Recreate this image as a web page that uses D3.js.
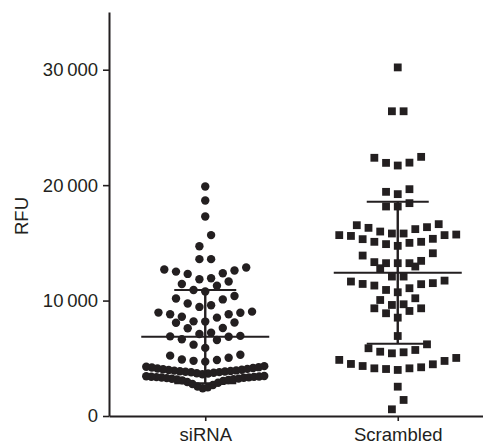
<!DOCTYPE html>
<html>
<head>
<meta charset="utf-8">
<script src="https://cdn.jsdelivr.net/npm/d3@7"></script>
<style>
  body { margin: 0; background: #fff; }
  svg { display: block; font-family: "Liberation Sans", Arial, Helvetica, sans-serif; }
</style>
</head>
<body>
<script>
const width = 483;
const height = 445;
const ink = "#231f20";

// groups on the x axis
const groups = ["siRNA", "Scrambled"];

// RFU values
const siRNA = [
    2410, 2480, 2560, 2690, 2770, 2880, 2950, 3040, 3090, 3120, 3160, 3190,
    3230, 3240, 3280, 3310, 3330, 3350, 3370, 3390, 3400, 3420, 3440, 3460,
    3620, 3680, 3710, 3750, 3790, 3800, 3830, 3860, 3880, 3900, 3930, 3950,
    3980, 4010, 4050, 4080, 4120, 4160, 4200, 4230, 4270, 4320,
    4710, 4780, 4850, 4900, 5050, 5230, 5300,
    5900, 6180, 6580, 6650, 6860, 6900, 6940,
    7100, 7220, 7600, 7620, 8080, 8100,
    8180, 8200, 8520, 8600, 8820, 8820, 8950, 8960, 9040,
    9450, 9600, 9750, 10100, 10180, 10400,
    10780, 10920, 11290, 11440, 11650,
    11850, 11940, 12310, 12370, 12510, 12600, 12690, 12860,
    13590, 13590, 14710, 15670, 17280, 18670, 19880
];

const scrambled = [
    580, 1390, 2540,
    3990, 4070, 4130, 4130, 4220, 4330, 4480, 4510, 4770, 4860, 5030,
    5430, 5520, 5570, 5720, 5870, 6210,
    6930,
    8520, 8900, 9100, 9330, 9330,
    9620, 9680, 10050, 10200,
    10720, 10920, 11070, 11300, 11420, 11440, 11510, 11650, 11730,
    12080, 12080, 12800, 12950,
    13240, 13240, 13240, 13330, 13440, 13900, 14100,
    14740, 14890, 15000, 15090, 15090, 15320, 15350, 15600, 15670, 15670, 15720,
    15810, 15810, 15980, 16190, 16300, 16360, 16530, 16620,
    18150, 18150, 18440, 19220, 19420, 19650,
    21700, 21930, 21950, 22370, 22450,
    26400, 26400, 30200
];

const yTicks = [0, 10000, 20000, 30000];
const yTickLabels = ["0", "10\u2009000", "20\u2009000", "30\u2009000"];

const svg = d3.select("body").append("svg")
    .attr("width", width)
    .attr("height", height);

const y = d3.scaleLinear()
    .domain([0, 35000])
    .range([416, 12]);

const x = d3.scalePoint()
    .domain(groups)
    .range([109, 494])
    .padding(0.5);

// swarm layout: values close together share a row, lowest in the middle
const rowSpan = 1050;
const gap = 11.7;
const maxWidth = 118;

function swarm(values, group) {
    const sorted = values.slice().sort(d3.ascending);
    const rows = [];
    sorted.forEach(v => {
        const row = rows[rows.length - 1];
        if (row && v - row[0] <= rowSpan) row.push(v);
        else rows.push([v]);
    });
    const pts = [];
    rows.forEach(row => {
        const n = row.length;
        const step = n > 1 ? Math.min(gap, maxWidth / (n - 1)) : 0;
        row.forEach((v, i) => {
            let slot;
            if (n % 2 === 1) slot = (i % 2 === 1 ? -1 : 1) * Math.ceil(i / 2);
            else slot = (i % 2 === 0 ? -1 : 1) * (Math.floor(i / 2) + 0.5);
            pts.push({ group, value: v, cx: x(group) + slot * step, cy: y(v) });
        });
    });
    return pts;
}

const siPts = swarm(siRNA, "siRNA");
const scPts = swarm(scrambled, "Scrambled");

svg.append("g")
    .attr("fill", ink)
    .selectAll("circle")
    .data(siPts)
    .join("circle")
    .attr("cx", d => d.cx)
    .attr("cy", d => d.cy)
    .attr("r", 4.2);

const sq = 7.8;
svg.append("g")
    .attr("fill", ink)
    .selectAll("rect")
    .data(scPts)
    .join("rect")
    .attr("x", d => d.cx - sq / 2)
    .attr("y", d => d.cy - sq / 2)
    .attr("width", sq)
    .attr("height", sq);

// mean and SD bars
const stats = [
    { group: "siRNA", values: siRNA },
    { group: "Scrambled", values: scrambled }
].map(s => ({ group: s.group, mean: d3.mean(s.values), sd: d3.deviation(s.values) }));

const bars = svg.append("g")
    .attr("stroke", ink)
    .attr("fill", "none");

stats.forEach(s => {
    const cx = x(s.group);
    bars.append("line")
        .attr("x1", cx).attr("x2", cx)
        .attr("y1", y(s.mean - s.sd)).attr("y2", y(s.mean + s.sd))
        .attr("stroke-width", 2.4);
    bars.append("line")
        .attr("x1", cx - 64).attr("x2", cx + 64)
        .attr("y1", y(s.mean)).attr("y2", y(s.mean))
        .attr("stroke-width", 2);
    [s.mean - s.sd, s.mean + s.sd].forEach(v => {
        bars.append("line")
            .attr("x1", cx - 31).attr("x2", cx + 31)
            .attr("y1", y(v)).attr("y2", y(v))
            .attr("stroke-width", 2);
    });
});

// axes
const yAxis = svg.append("g")
    .attr("transform", "translate(109,0)")
    .call(d3.axisLeft(y)
        .tickValues(yTicks)
        .tickFormat((d, i) => yTickLabels[i])
        .tickSize(6)
        .tickSizeOuter(0)
        .tickPadding(5));

const xAxis = svg.append("g")
    .attr("transform", "translate(0,416)")
    .call(d3.axisBottom(x)
        .tickSize(5)
        .tickSizeOuter(0));

[yAxis, xAxis].forEach(ax => {
    ax.select(".domain").attr("stroke", ink).attr("stroke-width", 2);
    ax.selectAll(".tick line").attr("stroke", ink).attr("stroke-width", 1.6);
    ax.selectAll(".tick text")
        .attr("fill", ink)
        .attr("font-size", "18.5px")
        .attr("font-family", "'Liberation Sans', Arial, sans-serif");
});

xAxis.selectAll(".tick text")
    .attr("y", 24.5)
    .attr("dy", 0);

svg.append("text")
    .attr("transform", "translate(28,216) rotate(-90)")
    .attr("text-anchor", "middle")
    .attr("fill", ink)
    .attr("font-size", "18.5px")
    .text("RFU");
</script>
</body>
</html>
